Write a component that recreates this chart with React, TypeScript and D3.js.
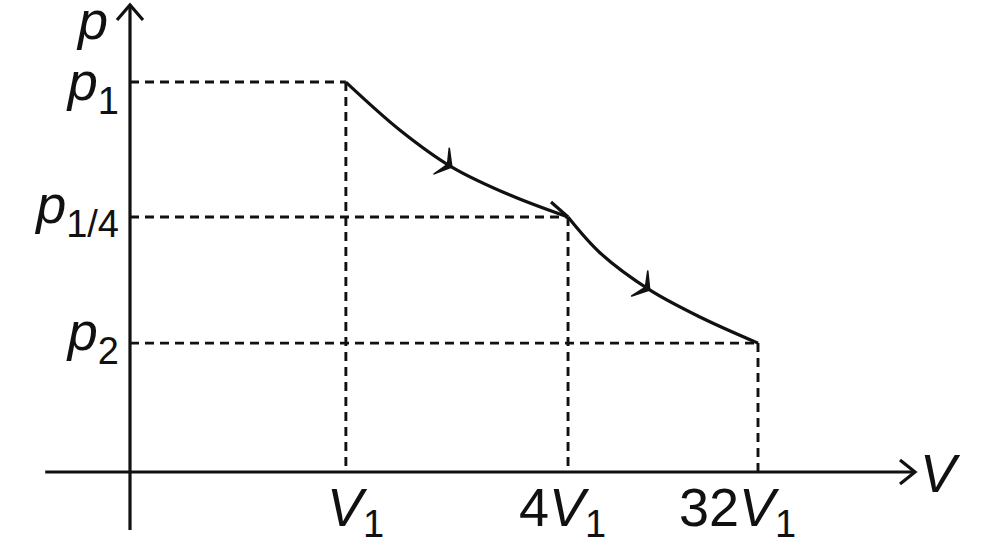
import * as d3 from 'd3';

// p-V diagram, values in arbitrary plot units (0..100 on each axis)
const volumeTicks = [27.5, 55.8, 80.0];
const volumeCoefs = ['', '4', '32'];
const pressureTicks = [83.5, 54.6, 27.6];
const pressureSubs = ['1', '1/4', '2'];
const pressureLabelShift = [18, 6, 7];

const stage1V = [27.5, 34.4, 41.0, 48.4, 55.8];
const stage1P = [83.5, 73.2, 65.3, 59.3, 54.6];
const stage2V = [55.8, 59.9, 66.2, 72.6, 80.0];
const stage2P = [54.6, 46.9, 39.0, 33.2, 27.6];

const W = 983;
const H = 553;
const FONT = '"Liberation Sans", Arial, Helvetica, sans-serif';

export default function App() {
  const x = d3.scaleLinear().domain([0, 100]).range([130, 915]);
  const y = d3.scaleLinear().domain([0, 100]).range([472, 5]);

  const line = d3.line<[number, number]>()
    .x(d => x(d[0]))
    .y(d => y(d[1]))
    .curve(d3.curveCatmullRom.alpha(0.5));

  const seg1 = stage1V.map((v, i) => [v, stage1P[i]] as [number, number]);
  const seg2 = stage2V.map((v, i) => [v, stage2P[i]] as [number, number]);

  // stealth style arrowhead in the middle of a segment
  const arrowHead = (pts: [number, number][], i: number) => {
    const tx = x(pts[i][0]), ty = y(pts[i][1]);
    const dx = x(pts[i + 1][0]) - x(pts[i - 1][0]);
    const dy = y(pts[i + 1][1]) - y(pts[i - 1][1]);
    const len = Math.hypot(dx, dy);
    const bx = -dx / len, by = -dy / len;
    const rot = (a: number, r: number) => {
      const c = Math.cos(a), s = Math.sin(a);
      return [tx + r * (bx * c - by * s), ty + r * (bx * s + by * c)];
    };
    const b1 = rot(0.9, 19);
    const b2 = rot(-0.9, 19);
    const n = [tx + bx * 5, ty + by * 5];
    return `M${b1[0]},${b1[1]}L${tx},${ty}L${b2[0]},${b2[1]}L${n[0]},${n[1]}Z`;
  };

  const ox = x(0), oy = y(0);
  const yTop = y(100), yBottom = y(-12.4);
  const xLeft = x(-10.8), xRight = x(100);

  const dash = '9,6';

  return (
    <svg width={W} height={H} style={{ position: 'absolute', left: 0, top: 0, background: '#fff' }}
      fontFamily={FONT}>
      {/* guide lines */}
      {pressureTicks.map((p, i) => (
        <g key={'g' + i} stroke="#111" strokeWidth={2.9} strokeDasharray={dash} fill="none">
          <line x1={ox} y1={y(p)} x2={x(volumeTicks[i])} y2={y(p)} />
          <line x1={x(volumeTicks[i])} y1={y(p)} x2={x(volumeTicks[i])} y2={oy} />
        </g>
      ))}

      {/* axes */}
      <line x1={ox} y1={yBottom} x2={ox} y2={yTop} stroke="#111" strokeWidth={3.2} />
      <line x1={xLeft} y1={oy} x2={xRight} y2={oy} stroke="#111" strokeWidth={3.2} />
      <path d={`M${ox - 13},${yTop + 15}L${ox},${yTop}L${ox + 13},${yTop + 15}`}
        fill="none" stroke="#111" strokeWidth={3.2} />
      <path d={`M${xRight - 15},${oy - 12}L${xRight},${oy}L${xRight - 15},${oy + 12}`}
        fill="none" stroke="#111" strokeWidth={3.2} />

      {/* process curves */}
      <path d={line(seg1) ?? ''} fill="none" stroke="#111" strokeWidth={3.2} />
      <path d={line(seg2) ?? ''} fill="none" stroke="#111" strokeWidth={3.2} />
      <path d={arrowHead(seg1, 2)} fill="#111" stroke="#111" strokeWidth={1.6} strokeLinejoin="round" />
      <path d={arrowHead(seg2, 2)} fill="#111" stroke="#111" strokeWidth={1.6} strokeLinejoin="round" />
      <line x1={x(stage2V[0]) - 17} y1={y(stage2P[0]) - 15} x2={x(stage2V[0])} y2={y(stage2P[0])}
        stroke="#111" strokeWidth={3.2} />

      {/* axis titles */}
      <text x={108} y={39} textAnchor="end" fontSize={54} fontStyle="italic" fill="#111">p</text>
      <text x={920} y={492} fontSize={54} fontStyle="italic" fill="#111">V</text>

      {/* pressure labels */}
      {pressureTicks.map((p, i) => (
        <text key={'p' + i} x={119} y={y(p) + pressureLabelShift[i]} textAnchor="end" fill="#111">
          <tspan fontSize={54} fontStyle="italic">p</tspan>
          <tspan fontSize={38} dy={14}>{pressureSubs[i]}</tspan>
        </text>
      ))}

      {/* volume labels */}
      {volumeTicks.map((v, i) => (
        <g key={'v' + i} fill="#111">
          {volumeCoefs[i] && (
            <text x={x(v) - 19} y={526} textAnchor="end" fontSize={54}>{volumeCoefs[i]}</text>
          )}
          <text x={x(v) - 19} y={526}>
            <tspan fontSize={54} fontStyle="italic">V</tspan>
            <tspan fontSize={38} dy={11}>1</tspan>
          </text>
        </g>
      ))}
    </svg>
  );
}
